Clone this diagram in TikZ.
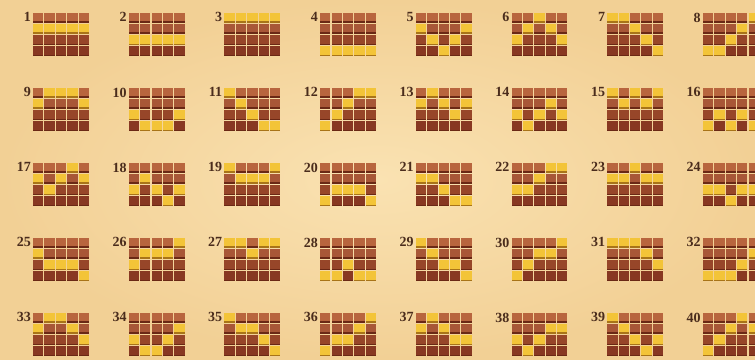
\documentclass[tikz,border=0pt]{standalone}
\usepackage{fontspec}
\setmainfont{Liberation Serif}
\definecolor{bgin}{HTML}{FAE2B2}
\definecolor{bgout}{HTML}{F2D095}
\definecolor{c0}{HTML}{B8653E}
\definecolor{c1}{HTML}{A85737}
\definecolor{c2}{HTML}{974629}
\definecolor{c3}{HTML}{883822}
\definecolor{cedge}{HTML}{6A2815}
\definecolor{yel}{HTML}{F3C438}
\definecolor{yedge}{HTML}{A87418}
\definecolor{numcol}{HTML}{4A2C1C}
\begin{document}
\begin{tikzpicture}[x=1pt,y=-1pt,
  numlabel/.style={anchor=north east, inner sep=0pt, font=\fontsize{14}{14}\selectfont\bfseries, text=numcol}]
\useasboundingbox (0,0) rectangle (755,359);
\shade[inner color=bgin, outer color=bgout] (0,0) rectangle (755,359);
\clip (0,0) rectangle (755,359);
\foreach \p [count=\k] in {
 {1,1,1,1,1},{2,2,2,2,2},{0,0,0,0,0},{3,3,3,3,3},{1,2,3,2,1},{2,1,0,1,2},{0,0,1,2,3},{3,3,2,1,0},
 {1,0,0,0,1},{2,3,3,3,2},{0,1,2,3,3},{3,2,1,0,0},{1,0,1,2,1},{2,3,2,1,2},{0,1,0,1,0},{3,2,3,2,3},
 {1,2,1,0,1},{2,1,2,3,2},{0,1,1,1,0},{3,2,2,2,3},{1,1,2,3,3},{2,2,1,0,0},{1,1,0,1,1},{2,2,3,2,2},
 {1,2,2,2,3},{2,1,1,1,0},{0,0,1,0,0},{3,3,2,3,3},{0,1,2,2,3},{3,2,1,1,0},{0,0,0,1,2},{3,3,3,2,1},
 {1,0,0,1,2},{2,3,3,2,1},{0,1,1,2,3},{3,2,2,1,0},{1,0,1,2,2},{2,3,2,1,1},{0,1,2,3,2},{3,2,1,0,1}} {
  \pgfmathtruncatemacro\gi{mod(\k-1,8)}
  \pgfmathtruncatemacro\gj{div(\k-1,8)}
  \pgfmathsetmacro\X{33+95.7*\gi}
  \pgfmathsetmacro\Y{12.5+75*\gj}
  \node[numlabel] (n\k) at (\X-2,\Y) {\k};
  \foreach \r [count=\c from 0] in \p {
    \foreach \rr in {0,...,3} {
      \pgfmathsetmacro\cx{\X+11.4*\c}
      \pgfmathsetmacro\cy{\Y+11.25*\rr}
      \ifnum\rr=\r\relax
        \def\fc{yel}\def\ec{yedge}
      \else
        \def\fc{c\rr}\def\ec{cedge}
      \fi
      \fill[\fc] (\cx,\cy) rectangle ++(10.3,10.2);
      \fill[\ec] (\cx,\cy+8.7) rectangle ++(10.3,1.5);
    }
  }
}
\end{tikzpicture}
\end{document}
